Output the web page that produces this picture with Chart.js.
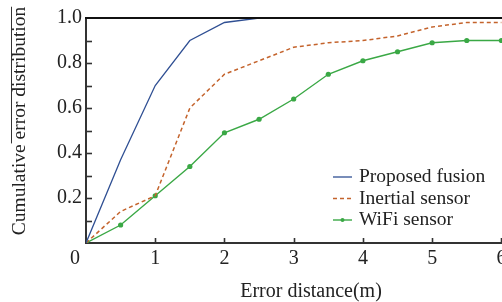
<!DOCTYPE html>
<html><head><meta charset="utf-8">
<script src="https://cdn.jsdelivr.net/npm/chart.js@4/dist/chart.umd.min.js"></script>
<style>
html,body{margin:0;padding:0;overflow:hidden;background:#fff;width:502px;height:302px}
#wrap{position:absolute;left:0;top:0;width:540px;height:302px}
canvas{display:block}
</style></head><body>
<div id="wrap"><canvas id="c" width="540" height="302"></canvas></div>
<script>
const errorDistance = [0, 0.5, 1, 1.5, 2, 2.5, 3, 3.5, 4, 4.5, 5, 5.5, 6];
const proposedFusion = [0, 0.37, 0.70, 0.90, 0.98, 1.0, 1.0, 1.0, 1.0, 1.0, 1.0, 1.0, 1.0];
const inertialSensor = [0, 0.14, 0.21, 0.60, 0.75, 0.81, 0.87, 0.89, 0.90, 0.92, 0.96, 0.98, 0.98];
const wifiSensor = [0, 0.08, 0.21, 0.34, 0.49, 0.55, 0.64, 0.75, 0.81, 0.85, 0.89, 0.90, 0.90];
const seriesNames = ['Proposed fusion', 'Inertial sensor', 'WiFi sensor'];
const xTickValues = [0, 1, 2, 3, 4, 5, 6];
const yTickValues = [0, 0.2, 0.4, 0.6, 0.8, 1.0];
const yMinorTickValues = [0.1, 0.2, 0.3, 0.4, 0.5, 0.6, 0.7, 0.8, 0.9];
const xTitle = 'Error distance(m)';
const yTitleA = 'Cumulative ';
const yTitleB = 'error distribution';

const FONT = 'Liberation Serif';
const FS = 20;
const LFS = 19.5;
const TXT = '#222';
const AX = '#333';

const pts = ys => errorDistance.map((x, i) => ({x: x, y: ys[i]}));

const decor = {
  id: 'decor',
  afterDraw(chart) {
    const ctx = chart.ctx, ca = chart.chartArea;
    const xs = chart.scales.x, ys = chart.scales.y;
    ctx.save();
    ctx.strokeStyle = '#111'; ctx.lineWidth = 2;
    ctx.beginPath(); ctx.moveTo(ca.left - 1, ca.top); ctx.lineTo(ca.right, ca.top); ctx.stroke();
    ctx.strokeStyle = AX; ctx.lineWidth = 1.6;
    yMinorTickValues.forEach(v => {
      const y = Math.round(ys.getPixelForValue(v)) + 0.5;
      ctx.beginPath(); ctx.moveTo(ca.left, y); ctx.lineTo(ca.left + 6, y); ctx.stroke();
    });
    xTickValues.slice(1).forEach(v => {
      const x = Math.round(xs.getPixelForValue(v)) + 0.5;
      ctx.beginPath(); ctx.moveTo(x, ca.bottom); ctx.lineTo(x, ca.bottom - 5); ctx.stroke();
    });
    ctx.fillStyle = TXT;
    ctx.font = FS + 'px "' + FONT + '"';
    ctx.textAlign = 'center'; ctx.textBaseline = 'middle';
    ctx.fillText(String(xTickValues[0]), xs.getPixelForValue(0) - 11, ca.bottom + 4 + FS * 0.6);
    ctx.font = LFS + 'px "' + FONT + '"';
    ctx.translate(20, 121);
    ctx.rotate(-Math.PI / 2);
    const full = yTitleA + yTitleB;
    const W = ctx.measureText(full).width;
    const w1 = ctx.measureText(yTitleA).width;
    ctx.fillText(full, 0, 0);
    ctx.strokeStyle = '#333'; ctx.lineWidth = 1;
    ctx.beginPath(); ctx.moveTo(-W / 2 + w1 - 4, -8.5); ctx.lineTo(W / 2, -8.5); ctx.stroke();
    ctx.restore();
    ctx.save();
    ctx.font = LFS + 'px "' + FONT + '"';
    ctx.textAlign = 'left'; ctx.textBaseline = 'middle';
    const rows = [177, 198.5, 220];
    chart.data.datasets.forEach((ds, i) => {
      const y = rows[i];
      ctx.strokeStyle = ds.borderColor; ctx.lineWidth = ds.borderWidth;
      ctx.setLineDash(ds.borderDash || []);
      ctx.beginPath(); ctx.moveTo(333, y); ctx.lineTo(352, y); ctx.stroke();
      ctx.setLineDash([]);
      if (ds.pointRadius > 0) {
        ctx.fillStyle = ds.borderColor;
        ctx.beginPath(); ctx.arc(342.5, y, 2, 0, Math.PI * 2); ctx.fill();
      }
      ctx.fillStyle = TXT;
      ctx.fillText(ds.label, 359, y);
    });
    ctx.restore();
  }
};

new Chart(document.getElementById('c'), {
  type: 'line',
  data: {
    datasets: [
      {label: seriesNames[0], data: pts(proposedFusion), borderColor: '#2f4f93', borderWidth: 1.3, pointRadius: 0, tension: 0},
      {label: seriesNames[1], data: pts(inertialSensor), borderColor: '#c4632c', borderWidth: 1.5, borderDash: [4, 3], pointRadius: 0, tension: 0},
      {label: seriesNames[2], data: pts(wifiSensor), borderColor: '#3aa845', backgroundColor: '#3aa845', borderWidth: 1.4, pointRadius: 2.6, pointBorderWidth: 0, pointBackgroundColor: '#3aa845', tension: 0}
    ]
  },
  options: {
    responsive: false,
    animation: false,
    devicePixelRatio: 1,
    layout: {padding: {top: 18, right: 3.5, bottom: 0, left: 0}},
    plugins: {legend: {display: false}, tooltip: {enabled: false}},
    scales: {
      x: {
        type: 'linear', min: 0, max: 6.5,
        afterBuildTicks: s => { s.ticks = xTickValues.map(v => ({value: v})); },
        ticks: {
          callback: v => v === 0 ? '' : String(v),
          font: {family: FONT, size: FS}, color: TXT, padding: 4, maxRotation: 0
        },
        grid: {display: true, drawOnChartArea: false, drawTicks: false},
        border: {display: true, color: AX, width: 2},
        title: {display: true, text: xTitle, font: {family: FONT, size: FS, lineHeight: 1.0}, color: TXT, padding: {top: 7, bottom: 0}}
      },
      y: {
        type: 'linear', min: 0, max: 1,
        afterBuildTicks: s => { s.ticks = yTickValues.map(v => ({value: v})); },
        afterFit: s => { s.width = 86; },
        ticks: {
          callback: v => v === 0 ? '' : v.toFixed(1),
          font: {family: FONT, size: FS}, color: TXT, padding: 4
        },
        grid: {display: true, drawOnChartArea: false, drawTicks: false},
        border: {display: true, color: AX, width: 2},
        title: {display: false}
      }
    }
  },
  plugins: [decor]
});
</script>
</body></html>
